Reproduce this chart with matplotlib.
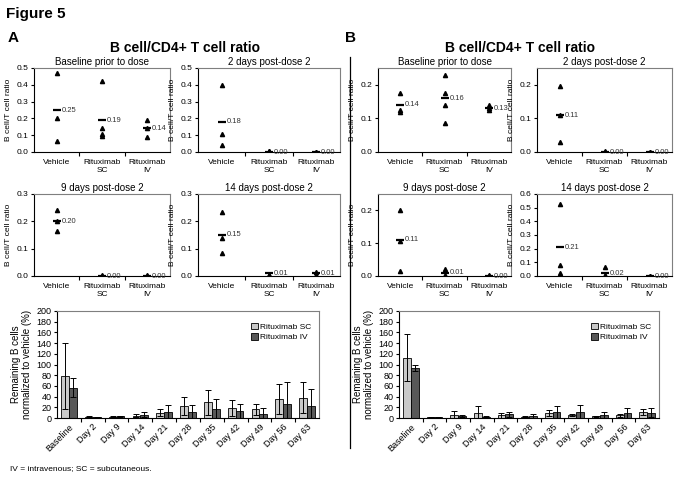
import numpy as np
import matplotlib
matplotlib.use('Agg')
import matplotlib.pyplot as plt
from matplotlib.ticker import FormatStrFormatter, MultipleLocator

plt.rcParams['font.family'] = ['Liberation Sans', 'DejaVu Sans']

groups = ['Vehicle', 'Rituximab\nSC', 'Rituximab\nIV']

# panel A, individual ratios per group and group means
a_baseline = [[0.47, 0.20, 0.065], [0.42, 0.145, 0.11, 0.095], [0.19, 0.14, 0.09]]
a_baseline_mean = [0.25, 0.19, 0.14]
a_day2 = [[0.40, 0.105, 0.04], [0.005, 0.003], [0.0, 0.001]]
a_day2_mean = [0.18, 0.00, 0.00]
a_day9 = [[0.24, 0.20, 0.165], [0.002, 0.001], [0.003, 0.0]]
a_day9_mean = [0.20, 0.00, 0.00]
a_day14 = [[0.235, 0.14, 0.085], [0.005, 0.003], [0.015, 0.005]]
a_day14_mean = [0.15, 0.01, 0.01]

# panel B
b_baseline = [[0.175, 0.125, 0.12], [0.23, 0.175, 0.14, 0.085], [0.14, 0.13, 0.125]]
b_baseline_mean = [0.14, 0.16, 0.13]
b_day2 = [[0.195, 0.11, 0.03], [0.002, 0.001], [0.0, 0.001]]
b_day2_mean = [0.11, 0.00, 0.00]
b_day9 = [[0.20, 0.108, 0.015], [0.02, 0.003], [0.002, 0.001]]
b_day9_mean = [0.11, 0.01, 0.00]
b_day14 = [[0.53, 0.08, 0.02], [0.065, 0.005, 0.0], [0.001, 0.0]]
b_day14_mean = [0.21, 0.02, 0.00]

# remaining B cells (%)
days = ['Baseline', 'Day 2', 'Day 9', 'Day 14', 'Day 21', 'Day 28',
        'Day 35', 'Day 42', 'Day 49', 'Day 56', 'Day 63']
a_sc = [79, 2, 2, 4, 10, 22, 29, 19, 16, 36, 38]
a_sc_err = [62, 1, 1, 3, 7, 17, 23, 15, 11, 28, 29]
a_iv = [57, 1, 3, 6, 11, 11, 17, 13, 8, 26, 23]
a_iv_err = [17, 1, 1, 5, 14, 13, 19, 14, 10, 41, 31]
b_sc = [113, 1, 5, 9, 5, 2, 9, 6, 3, 5, 11]
b_sc_err = [44, 0.5, 9, 14, 5, 1, 6, 2, 1, 3, 6]
b_iv = [93, 1, 3, 2, 7, 3, 11, 11, 6, 9, 10]
b_iv_err = [6, 0.5, 2, 1, 5, 4, 11, 13, 6, 10, 9]

W, H = 683, 479


def rect(x0, y0, x1, y1):
    return [x0 / W, 1 - y1 / H, (x1 - x0) / W, (y1 - y0) / H]


def style_box(ax):
    for s in ['left', 'bottom']:
        ax.spines[s].set_color('black')
        ax.spines[s].set_linewidth(0.8)
    for s in ['top', 'right']:
        ax.spines[s].set_color('#7f7f7f')
        ax.spines[s].set_linewidth(0.8)


def ratio_panel(fig, box, title, pts, means, ymax, ystep):
    ax = fig.add_axes(rect(*box))
    for i, vals in enumerate(pts):
        ax.plot([i + 1] * len(vals), vals, linestyle='none', marker='^',
                ms=3, color='black')
        ax.plot(i + 1, means[i], marker='_', ms=6, mew=1.6, color='black')
        ax.annotate('%.2f' % means[i], (i + 1, means[i]), xytext=(3.5, 0),
                    textcoords='offset points', va='center', fontsize=5.5,
                    color='#333333')
    ax.set_xlim(0.5, 3.5)
    ax.set_ylim(0, ymax)
    ax.yaxis.set_major_locator(MultipleLocator(ystep))
    ax.yaxis.set_major_formatter(FormatStrFormatter('%.1f'))
    ax.set_xticks([1, 2, 3])
    ax.set_xticklabels(groups, fontsize=6)
    ax.set_xticks([1.5, 2.5], minor=True)
    ax.tick_params(axis='x', which='major', length=0, pad=5)
    ax.tick_params(axis='x', which='minor', length=3, width=0.8, direction='out')
    ax.tick_params(axis='y', length=2.5, width=0.8, labelsize=6, pad=1.5)
    ax.set_ylabel('B cell/T cell ratio', fontsize=6, labelpad=3)
    ax.set_title(title, fontsize=7, pad=2)
    style_box(ax)
    return ax


def bar_panel(fig, box, sc, sc_err, iv, iv_err):
    ax = fig.add_axes(rect(*box))
    x = np.arange(len(days))
    w = 0.33
    ax.bar(x - w / 2, sc, w, color='#c9c9c9', edgecolor='black', lw=0.6,
           label='Rituximab SC')
    ax.bar(x + w / 2, iv, w, color='#585858', edgecolor='black', lw=0.6,
           label='Rituximab IV')
    ax.errorbar(x - w / 2, sc, yerr=sc_err, fmt='none', ecolor='black',
                elinewidth=0.7, capsize=2, capthick=0.7)
    ax.errorbar(x + w / 2, iv, yerr=iv_err, fmt='none', ecolor='black',
                elinewidth=0.7, capsize=2, capthick=0.7)
    ax.set_xlim(-0.5, len(days) - 0.5)
    ax.set_ylim(0, 200)
    ax.yaxis.set_major_locator(MultipleLocator(20))
    ax.set_xticks(x)
    ax.set_xticklabels(days, rotation=45, ha='right', rotation_mode='anchor',
                       fontsize=6.5)
    ax.set_xticks(x[:-1] + 0.5, minor=True)
    ax.tick_params(axis='x', which='major', length=0, pad=3)
    ax.tick_params(axis='x', which='minor', length=3, width=0.8, direction='out')
    ax.tick_params(axis='y', length=2.5, width=0.8, labelsize=6.5, pad=1.5)
    ax.set_ylabel('Remaining B cells\nnormalized to vehicle (%)', fontsize=7,
                  labelpad=3)
    ax.legend(loc='upper right', frameon=False, fontsize=6, handlelength=0.8,
              handleheight=0.8, handletextpad=0.3, labelspacing=0.3,
              bbox_to_anchor=(1.0, 0.96))
    style_box(ax)
    return ax


fig = plt.figure(figsize=(W / 100, H / 100), dpi=100)

fig.text(6 / W, 1 - 14 / H, 'Figure 5', fontsize=11, fontweight='bold', va='center')
fig.text(8 / W, 1 - 38 / H, 'A', fontsize=11, fontweight='bold', va='center')
fig.text(345 / W, 1 - 38 / H, 'B', fontsize=11, fontweight='bold', va='center')
fig.text(185 / W, 1 - 48 / H, 'B cell/CD4+ T cell ratio', fontsize=10,
         fontweight='bold', ha='center', va='center')
fig.text(520 / W, 1 - 48 / H, 'B cell/CD4+ T cell ratio', fontsize=10,
         fontweight='bold', ha='center', va='center')

ratio_panel(fig, (34, 68, 170, 152), 'Baseline prior to dose', a_baseline, a_baseline_mean, 0.5, 0.1)
ratio_panel(fig, (198, 68, 340, 152), '2 days post-dose 2', a_day2, a_day2_mean, 0.5, 0.1)
ratio_panel(fig, (34, 194, 170, 276), '9 days post-dose 2', a_day9, a_day9_mean, 0.3, 0.1)
ratio_panel(fig, (198, 194, 340, 276), '14 days post-dose 2', a_day14, a_day14_mean, 0.3, 0.1)

ratio_panel(fig, (378, 68, 511, 152), 'Baseline prior to dose', b_baseline, b_baseline_mean, 0.25, 0.1)
ratio_panel(fig, (537, 68, 672, 152), '2 days post-dose 2', b_day2, b_day2_mean, 0.25, 0.1)
ratio_panel(fig, (378, 194, 511, 276), '9 days post-dose 2', b_day9, b_day9_mean, 0.25, 0.1)
ratio_panel(fig, (537, 194, 672, 276), '14 days post-dose 2', b_day14, b_day14_mean, 0.6, 0.1)

bar_panel(fig, (57, 311, 319, 418), a_sc, a_sc_err, a_iv, a_iv_err)
bar_panel(fig, (399, 311, 659, 418), b_sc, b_sc_err, b_iv, b_iv_err)

# divider between A and B
fig.add_artist(plt.Line2D([350 / W, 350 / W], [1 - 57 / H, 1 - 448 / H],
                          color='black', lw=0.9))

fig.text(10 / W, 1 - 469 / H, 'IV = intravenous; SC = subcutaneous.',
         fontsize=6, va='center')

fig.savefig('out.png', dpi=100)
